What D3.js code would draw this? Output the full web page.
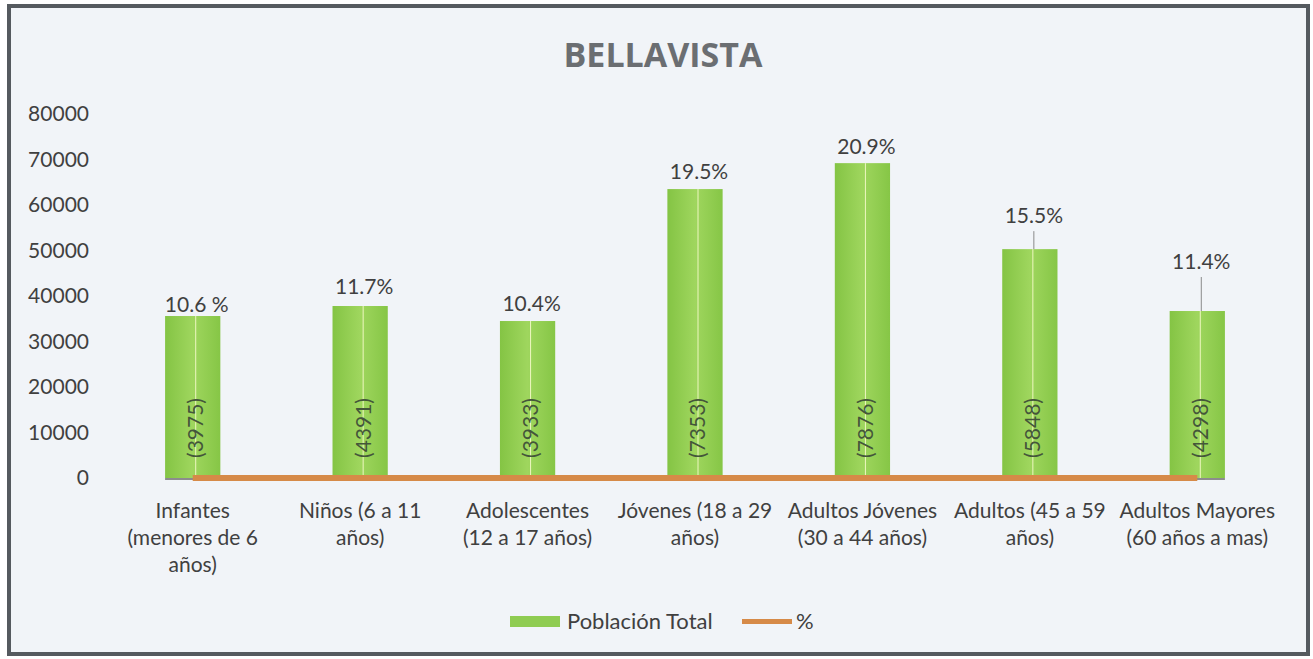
<!DOCTYPE html>
<html>
<head>
<meta charset="utf-8">
<script src="https://cdn.jsdelivr.net/npm/d3@7"></script>
<style>
  body { margin: 0; background: #ffffff; }
  text { font-family: Lato, "Noto Sans", sans-serif; fill: #404040; }
</style>
</head>
<body>
<div id="chart"></div>
<script>
var categories = [
  'Infantes\n(menores de 6\naños)',
  'Niños (6 a 11\naños)',
  'Adolescentes\n(12 a 17 años)',
  'Jóvenes (18 a 29\naños)',
  'Adultos Jóvenes\n(30 a 44 años)',
  'Adultos (45 a 59\naños)',
  'Adultos Mayores\n(60 años a mas)'
];
var poblacion = [35600, 37800, 34500, 63500, 69200, 50300, 36700];
var conteo = ['(3975)', '(4391)', '(3933)', '(7353)', '(7876)', '(5848)', '(4298)'];
var porcentaje = [10.6, 11.7, 10.4, 19.5, 20.9, 15.5, 11.4];
var pctLabels = ['10.6 %', '11.7%', '10.4%', '19.5%', '20.9%', '15.5%', '11.4%'];
var yTicks = [0, 10000, 20000, 30000, 40000, 50000, 60000, 70000, 80000];

var W = 1313, H = 659;
var plot = { left: 109, right: 1281, top: 114, bottom: 478 };
var fs = '21px';

// how far each % label sits above its bar, and which ones get a leader line
var labelLift = [11, 19, 17, 17, 16, 33, 49];
var hasLeader = [false, false, false, false, false, true, true];

var svg = d3.select('#chart').append('svg')
  .attr('width', W)
  .attr('height', H);

var defs = svg.append('defs');
var grad = defs.append('linearGradient').attr('id', 'barGrad')
  .attr('x1', '0%').attr('x2', '100%').attr('y1', '0%').attr('y2', '0%');
grad.append('stop').attr('offset', '0%').attr('stop-color', '#84c444');
grad.append('stop').attr('offset', '50%').attr('stop-color', '#9fd65e');
grad.append('stop').attr('offset', '100%').attr('stop-color', '#86c646');

// frame
svg.append('rect')
  .attr('x', 9).attr('y', 6)
  .attr('width', 1299).attr('height', 648)
  .attr('fill', '#f1f4f8')
  .attr('stroke', '#555a5f')
  .attr('stroke-width', 4);

svg.append('text')
  .attr('x', 663).attr('y', 67)
  .attr('text-anchor', 'middle')
  .style('font-family', '"Open Sans", sans-serif')
  .style('font-weight', 'bold')
  .style('font-size', '34px')
  .style('fill', '#6b6e72')
  .text('BELLAVISTA');

var xScale = d3.scaleBand()
  .domain(categories)
  .range([plot.left, plot.right])
  .paddingInner(0.67)
  .paddingOuter(0.335);
var yScale = d3.scaleLinear()
  .domain([0, 80000])
  .range([plot.bottom, plot.top]);

// y axis, labels only
var yAxis = d3.axisLeft(yScale)
  .tickValues(yTicks)
  .tickSize(0)
  .tickPadding(0)
  .tickFormat(d3.format('d'));
var gy = svg.append('g')
  .attr('transform', 'translate(89,0)')
  .call(yAxis);
gy.select('.domain').remove();
gy.selectAll('text')
  .style('font-size', fs)
  .style('fill', '#404040')
  .style('font-family', 'Lato, "Noto Sans", sans-serif');

// thin axis line under the bars
svg.append('line')
  .attr('x1', xScale(categories[0]))
  .attr('x2', xScale(categories[categories.length - 1]) + xScale.bandwidth())
  .attr('y1', yScale(0) + 1).attr('y2', yScale(0) + 1)
  .attr('stroke', '#6a6a6a')
  .attr('stroke-width', 1.5);

var data = categories.map(function(c, i) {
  return { cat: c, v: poblacion[i], n: conteo[i], p: porcentaje[i], pl: pctLabels[i], lift: labelLift[i], lead: hasLeader[i] };
});

var bars = svg.append('g').attr('id', 'bars');
bars.selectAll('rect').data(data).enter().append('rect')
  .attr('x', function(d) { return xScale(d.cat); })
  .attr('y', function(d) { return yScale(d.v); })
  .attr('width', xScale.bandwidth())
  .attr('height', function(d) { return yScale(0) - yScale(d.v); })
  .attr('fill', 'url(#barGrad)');

// pale line through the middle of each bar
bars.selectAll('line').data(data).enter().append('line')
  .attr('x1', function(d) { return xScale(d.cat) + xScale.bandwidth() / 2 + 3; })
  .attr('x2', function(d) { return xScale(d.cat) + xScale.bandwidth() / 2 + 3; })
  .attr('y1', function(d) { return yScale(d.v); })
  .attr('y2', yScale(0))
  .attr('stroke', '#eef7c0')
  .attr('stroke-width', 1);

// rotated counts inside bars
svg.append('g').selectAll('text').data(data).enter().append('text')
  .attr('transform', function(d) {
    return 'translate(' + (xScale(d.cat) + xScale.bandwidth() / 2 + 3) + ',' + 428 + ') rotate(-90)';
  })
  .attr('text-anchor', 'middle')
  .attr('dy', '0.35em')
  .style('font-size', fs)
  .style('fill', '#44563a')
  .text(function(d) { return d.n; });

// % series line
var line = d3.line()
  .x(function(d) { return xScale(d.cat) + xScale.bandwidth() / 2; })
  .y(function(d) { return yScale(d.p); });
svg.append('path')
  .datum(data)
  .attr('d', line)
  .attr('fill', 'none')
  .attr('stroke', '#d68a48')
  .attr('stroke-width', 6);

// leader lines
svg.append('g').selectAll('line').data(data.filter(function(d) { return d.lead; })).enter().append('line')
  .attr('x1', function(d) { return xScale(d.cat) + xScale.bandwidth() / 2 + 4; })
  .attr('x2', function(d) { return xScale(d.cat) + xScale.bandwidth() / 2 + 4; })
  .attr('y1', function(d) { return yScale(d.v) - d.lift + 15; })
  .attr('y2', function(d) { return yScale(d.v); })
  .attr('stroke', '#8a8a8a')
  .attr('stroke-width', 1);

// % labels
svg.append('g').selectAll('text').data(data).enter().append('text')
  .attr('x', function(d) { return xScale(d.cat) + xScale.bandwidth() / 2 + 4; })
  .attr('y', function(d) { return yScale(d.v) - d.lift; })
  .attr('dy', '0.35em')
  .attr('text-anchor', 'middle')
  .style('font-size', fs)
  .text(function(d) { return d.pl; });

// category labels
var gx = svg.append('g').selectAll('text').data(data).enter().append('text')
  .attr('text-anchor', 'middle')
  .style('font-size', fs)
  .attr('transform', function(d) { return 'translate(' + (xScale(d.cat) + xScale.bandwidth() / 2) + ',511)'; });
gx.selectAll('tspan')
  .data(function(d) { return d.cat.split('\n'); })
  .enter().append('tspan')
  .attr('x', 0)
  .attr('y', function(d, i) { return i * 27; })
  .attr('dy', '0.35em')
  .text(function(d) { return d; });

// legend
var legend = svg.append('g').attr('id', 'legend');
legend.append('rect')
  .attr('x', 510).attr('y', 616).attr('width', 50).attr('height', 11)
  .attr('fill', '#8fcc52');
legend.append('text')
  .attr('x', 567).attr('y', 621).attr('dy', '0.35em')
  .style('font-size', '22px')
  .text('Población Total');
legend.append('rect')
  .attr('x', 742).attr('y', 619).attr('width', 50).attr('height', 5)
  .attr('fill', '#d68a48');
legend.append('text')
  .attr('x', 796).attr('y', 621).attr('dy', '0.35em')
  .style('font-size', '22px')
  .text('%');
</script>
</body>
</html>
